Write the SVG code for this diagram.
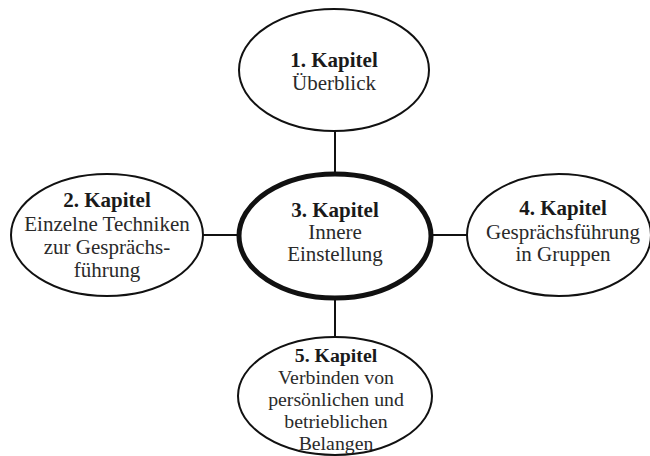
<svg xmlns="http://www.w3.org/2000/svg" width="650" height="456" viewBox="0 0 650 456">
<style>
.n{fill:#fff;stroke:#111;stroke-width:2}
.c{fill:#fff;stroke:#111;stroke-width:5}
.e{stroke:#111;stroke-width:2;fill:none}
text{font-family:"Liberation Serif","Times New Roman",serif;font-size:21px;fill:#2a2a2a;text-anchor:middle}
.b{font-weight:bold;fill:#1a1a1a}
.s{font-size:19.8px}
</style>
<rect width="650" height="456" fill="#fff"/>
<g id="connectors">
<line class="e" x1="335" y1="131" x2="335" y2="176"/>
<line class="e" x1="203" y1="235" x2="239" y2="235"/>
<line class="e" x1="431" y1="235" x2="467" y2="235"/>
<line class="e" x1="335" y1="298" x2="335" y2="338"/>
</g>
<g id="n1">
<ellipse class="n" cx="334" cy="70" rx="95" ry="61"/>
<text x="334" y="67" class="b">1. Kapitel</text>
<text x="334" y="90">Überblick</text>
</g>
<g id="n2">
<ellipse class="n" cx="107" cy="235" rx="96" ry="61"/>
<text x="107" y="207" class="b">2. Kapitel</text>
<text x="107" y="231">Einzelne Techniken</text>
<text x="107" y="254">zur Gesprächs-</text>
<text x="107" y="277">führung</text>
</g>
<g id="n3">
<ellipse class="c" cx="335" cy="236" rx="96" ry="62"/>
<text x="335" y="217" class="b">3. Kapitel</text>
<text x="335" y="239">Innere</text>
<text x="335" y="261">Einstellung</text>
</g>
<g id="n4">
<ellipse class="n" cx="559" cy="235" rx="92" ry="61"/>
<text x="563" y="215" class="b">4. Kapitel</text>
<text x="563" y="239">Gesprächsführung</text>
<text x="563" y="261">in Gruppen</text>
</g>
<g id="n5">
<ellipse class="n" cx="335" cy="396" rx="97" ry="59"/>
<text x="336" y="362" class="b s">5. Kapitel</text>
<text x="336" y="384" class="s">Verbinden von</text>
<text x="336" y="406" class="s">persönlichen und</text>
<text x="336" y="428" class="s">betrieblichen</text>
<text x="336" y="450" class="s">Belangen</text>
</g>
</svg>
